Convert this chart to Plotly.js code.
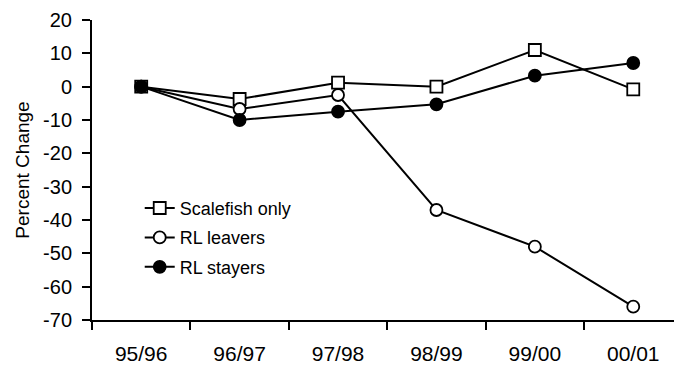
<!DOCTYPE html>
<html><head><meta charset="utf-8">
<script src="https://cdn.plot.ly/plotly-3.0.1.min.js"></script>
<style>html,body{margin:0;padding:0;background:#fff}</style>
</head><body><div id="chart" style="width:674px;height:367px"></div>
<script>
const categories = ["95/96", "96/97", "97/98", "98/99", "99/00", "00/01"];
const scalefish = [0, -3.7, 1.2, 0, 11, -0.8];
const leavers = [0, -6.7, -2.5, -37, -48, -66];
const stayers = [0, -10, -7.5, -5.3, 3.3, 7.1];
const yTicks = [20, 10, 0, -10, -20, -30, -40, -50, -60, -70];

const font = "Liberation Sans, Arial, sans-serif";
function tr(name, y, symbol, fill, grp) {
  return {
    type: "scatter", mode: "lines+markers", name: name, x: categories, y: y,
    legendgroup: grp,
    line: {color: "#000", width: 2},
    marker: {symbol: symbol, size: 12, color: fill, line: {color: "#000", width: 1.8}}
  };
}
const data = [
  tr("Scalefish only", scalefish, "square", "#fff", "a"),
  tr("RL leavers", leavers, "circle", "#fff", "b"),
  tr("RL stayers", stayers, "circle", "#000", "c")
];
const layout = {
  width: 674, height: 367,
  margin: {l: 92, r: 0, t: 20, b: 47},
  paper_bgcolor: "#fff", plot_bgcolor: "#fff",
  font: {family: font, color: "#000", size: 18},
  showlegend: true,
  legend: {x: 0.082, y: 0.434, xanchor: "left", yanchor: "top", bgcolor: "rgba(0,0,0,0)",
           font: {size: 18, family: font}, traceorder: "grouped", tracegroupgap: 3},
  xaxis: {
    type: "category", range: [-0.5, 5.414], tickson: "boundaries",
    showline: true, linecolor: "#000", linewidth: 2, showgrid: false, zeroline: false,
    ticks: "outside", ticklen: 8, tickwidth: 2, tickcolor: "#000",
    ticklabelstandoff: 14, tickfont: {size: 21, family: font}
  },
  yaxis: {
    range: [-70, 20], tickvals: yTicks, ticktext: yTicks.map(String),
    showline: true, linecolor: "#000", linewidth: 2, showgrid: false, zeroline: false,
    ticks: "outside", ticklen: 8, tickwidth: 2, tickcolor: "#000",
    ticklabelstandoff: 6, tickfont: {size: 20, family: font},
    title: {text: "Percent Change", font: {size: 19, family: font}, standoff: 8}
  }
};
Plotly.newPlot("chart", data, layout, {staticPlot: true, displayModeBar: false});
</script></body></html>
